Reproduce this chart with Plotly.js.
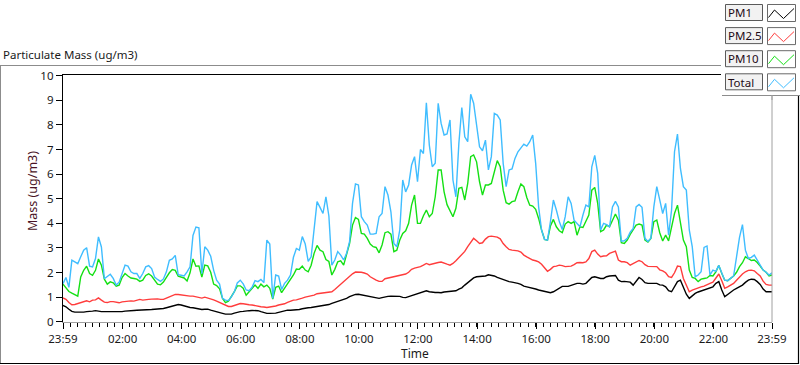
<!DOCTYPE html>
<html><head><meta charset="utf-8">
<script src="https://cdn.plot.ly/plotly-3.0.1.min.js"></script>
<style>html,body{margin:0;padding:0;background:#fff;overflow:hidden}#chart{width:800px;height:365px}</style>
</head><body><div id="chart"></div>
<script>
// ---- data (ug/m3), one sample every 6 minutes from 23:59 to 23:59 ----
const startTime = '2024-01-01 23:59';
const endTime = '2024-01-02 23:59';
const stepMinutes = 6;
const seriesNames = ['PM1', 'PM2.5', 'PM10', 'Total'];
const seriesColors = ['#000000', '#ff3c3c', '#14e014', '#3fbdff'];

const pm1 = [
0.66,0.61,0.51,0.42,0.39,0.38,0.38,0.39,0.41,0.41,
0.43,0.45,0.42,0.41,0.41,0.41,0.41,0.41,0.41,0.39,
0.41,0.43,0.45,0.45,0.46,0.47,0.47,0.47,0.50,0.50,
0.50,0.51,0.51,0.53,0.54,0.57,0.61,0.65,0.69,0.70,
0.68,0.64,0.59,0.58,0.57,0.54,0.51,0.50,0.51,0.51,
0.47,0.43,0.39,0.36,0.34,0.31,0.30,0.31,0.35,0.39,
0.41,0.42,
0.45,0.45,0.46,0.46,0.45,0.41,0.37,0.34,0.34,0.34,
0.35,0.38,0.42,0.46,0.47,0.47,0.47,0.49,0.50,0.53,
0.56,0.57,0.58,0.60,0.61,0.62,0.64,0.66,0.70,0.75,
0.79,0.81,0.85,0.91,0.95,1.02,1.08,1.11,1.12,1.10,
1.07,1.04,1.02,1.00,0.98,0.95,0.98,1.02,1.03,1.04,
1.04,1.04,1.03,0.99,0.98,1.02,1.06,1.10,1.15,1.19,
1.25,
1.26,1.22,1.19,1.19,1.19,1.18,1.21,1.22,1.22,1.22,
1.26,1.33,1.38,1.49,1.59,1.69,1.78,1.83,1.83,1.86,
1.86,1.91,1.90,1.86,1.80,1.76,1.69,1.67,1.63,1.61,
1.60,1.56,1.52,1.45,1.42,1.40,1.36,1.33,1.29,1.26,
1.22,1.18,1.18,1.22,1.29,1.34,1.44,1.44,1.44,1.48,
1.53,1.56,1.56,1.53,1.56,1.67,1.80,1.83,1.78,1.76,
1.76,
1.83,1.86,1.88,1.88,1.69,1.63,1.64,1.63,1.61,1.49,
1.67,1.80,1.72,1.59,1.56,1.56,1.53,1.56,1.50,1.49,
1.42,1.26,1.22,1.42,1.63,1.69,1.36,1.12,0.95,1.07,
1.15,1.21,1.25,1.29,1.33,1.36,1.42,1.56,1.63,1.29,
1.02,1.11,1.22,1.29,1.36,1.42,1.49,1.60,1.69,1.73,
1.72,1.63,1.52,1.33,1.22,1.22,1.22
];

const pm25 = [
0.97,0.91,0.78,0.69,0.70,0.74,0.78,0.82,0.85,0.81,
0.88,0.89,0.97,0.88,0.80,0.78,0.82,0.82,0.78,0.77,
0.81,0.82,0.86,0.85,0.84,0.86,0.91,0.88,0.88,0.91,
0.92,0.93,0.93,0.91,0.91,0.96,1.01,1.08,1.11,1.11,
1.09,1.08,1.07,1.04,1.04,1.01,0.99,0.96,1.00,0.97,
0.93,0.89,0.84,0.78,0.72,0.66,0.62,0.62,0.66,0.72,
0.74,0.73,
0.70,0.69,0.68,0.65,0.64,0.61,0.60,0.58,0.60,0.61,
0.64,0.68,0.70,0.73,0.79,0.85,0.88,0.89,0.91,0.96,
1.00,1.03,1.04,1.08,1.14,1.15,1.17,1.18,1.19,1.22,
1.31,1.42,1.50,1.61,1.71,1.83,1.95,2.02,2.03,2.01,
1.98,1.94,1.83,1.75,1.69,1.64,1.64,1.75,1.78,1.80,
1.84,1.87,1.90,1.91,1.94,2.01,2.13,2.18,2.20,2.24,
2.30,
2.37,2.32,2.36,2.40,2.41,2.43,2.37,2.34,2.30,2.37,
2.48,2.62,2.74,2.86,3.05,3.24,3.39,3.29,3.18,3.21,
3.36,3.46,3.48,3.46,3.44,3.37,3.18,3.05,2.94,2.91,
2.91,2.88,2.83,2.71,2.64,2.57,2.51,2.48,2.43,2.34,
2.17,2.05,2.13,2.24,2.26,2.30,2.28,2.24,2.25,2.26,
2.32,2.40,2.41,2.40,2.43,2.57,2.85,2.91,2.75,2.64,
2.67,
2.68,2.78,2.83,2.87,2.51,2.44,2.44,2.40,2.30,2.37,
2.43,2.49,2.44,2.32,2.25,2.24,2.26,2.24,2.11,2.07,
1.99,1.83,1.80,1.99,2.26,2.24,1.76,1.45,1.22,1.29,
1.34,1.40,1.42,1.45,1.49,1.56,1.61,1.80,1.94,1.67,
1.36,1.42,1.50,1.56,1.69,1.82,1.94,2.03,2.09,2.10,
2.07,1.96,1.86,1.65,1.52,1.49,1.49
];

const pm10 = [
1.53,1.39,1.23,1.16,1.09,1.04,1.82,2.09,2.26,1.96,
1.89,2.09,2.55,2.30,1.73,1.53,1.62,1.58,1.45,1.49,
1.80,1.96,1.86,1.78,1.76,1.73,1.64,1.69,1.88,1.95,
1.86,1.69,1.53,1.50,1.61,1.80,1.99,2.12,2.09,1.85,
1.82,1.78,1.66,1.99,2.55,2.26,2.27,1.82,2.30,2.27,
2.01,1.53,1.47,1.34,0.95,0.78,0.84,1.01,1.22,1.46,
1.46,1.36,
1.08,1.22,1.34,1.49,1.36,1.53,1.42,1.49,1.36,0.92,
1.40,1.45,1.18,1.36,1.49,1.67,1.90,2.14,2.13,2.26,
2.10,2.03,2.30,2.78,3.10,2.91,2.85,2.53,2.45,1.90,
2.13,2.44,2.48,2.30,2.71,3.18,3.93,4.24,4.16,3.59,
3.56,3.39,3.16,3.05,3.02,2.80,3.12,3.62,3.66,3.56,
2.85,2.91,3.32,3.59,3.70,4.00,4.74,5.15,4.00,4.00,
4.31,
4.54,4.27,4.40,5.08,6.17,6.17,5.28,4.76,4.54,4.27,
4.61,5.42,5.46,4.95,5.62,6.71,6.78,6.50,5.69,5.15,
5.56,5.56,5.62,6.10,6.55,6.30,5.35,4.84,4.78,4.88,
4.91,5.28,5.60,5.49,5.05,4.74,4.70,4.57,4.20,3.73,
3.35,3.32,3.89,4.16,3.86,3.70,3.62,3.97,4.07,4.00,
4.07,3.52,3.86,3.83,4.07,4.34,5.35,5.46,4.81,3.66,
3.73,
3.93,3.86,4.13,4.38,4.13,3.21,3.18,3.32,3.55,3.73,
3.93,3.97,3.93,3.32,3.24,3.39,4.07,4.13,3.62,3.28,
3.52,3.29,3.89,4.40,4.74,4.07,3.32,3.05,2.10,1.80,
1.76,1.63,1.73,1.76,1.78,1.88,1.86,2.03,2.29,1.96,
1.69,1.67,1.76,1.86,2.01,2.24,2.40,2.64,2.57,2.49,
2.51,2.41,2.26,2.10,2.01,1.86,1.90
];

const total = [
1.55,1.80,1.40,2.50,2.43,2.36,2.64,2.91,3.01,2.26,
2.23,2.57,3.45,3.04,1.75,1.86,1.93,1.76,1.49,1.61,
1.96,2.30,2.26,2.03,1.96,1.96,1.76,1.96,2.23,2.28,
2.16,1.82,1.72,1.64,1.74,2.03,2.50,2.55,2.70,1.91,
1.89,1.86,2.03,2.23,3.51,3.85,3.82,1.95,3.05,2.91,
2.66,2.09,1.69,1.53,0.95,0.88,0.86,1.01,1.22,1.58,
1.69,1.54,
1.29,1.26,1.40,1.67,1.63,1.72,1.59,3.32,3.16,0.95,
1.90,1.86,1.31,1.56,1.69,1.90,2.62,2.98,2.91,3.46,
3.16,2.45,2.64,3.86,4.88,4.65,4.40,5.08,4.30,2.30,
2.51,2.85,2.71,2.51,2.78,3.25,4.81,5.60,5.56,4.27,
4.07,3.93,3.56,3.56,3.59,4.27,4.40,5.49,5.15,4.47,
3.18,3.05,3.73,5.76,5.28,5.56,6.37,6.71,5.69,7.00,
6.84,
8.90,7.18,6.30,6.44,8.88,8.06,7.59,7.63,8.20,5.76,
5.08,7.25,8.71,7.52,7.32,9.25,8.88,8.04,7.11,6.95,
7.38,6.17,6.71,8.47,8.40,8.20,6.44,5.49,6.17,6.21,
6.64,6.91,7.05,7.22,7.14,7.32,7.59,6.44,4.67,3.73,
3.35,3.32,4.07,4.95,4.54,4.07,3.75,4.27,5.08,4.81,
4.13,3.97,3.86,4.34,4.74,4.67,6.30,6.76,6.03,3.73,
4.00,
3.95,3.86,4.67,4.89,4.67,3.27,3.29,3.39,3.64,3.79,
4.67,4.77,4.65,3.39,3.26,3.40,4.67,5.49,4.95,4.40,
4.81,3.52,4.54,6.91,7.63,6.23,5.49,5.35,3.73,3.05,
1.83,1.90,2.03,3.02,3.08,1.90,2.10,2.05,2.29,1.96,
1.69,1.67,1.78,1.86,2.64,3.43,3.95,2.91,2.57,2.62,
2.71,2.51,2.30,2.10,2.01,1.90,1.99
];

const tickLabels = ['23:59','02:00','04:00','06:00','08:00','10:00','12:00','14:00','16:00','18:00','20:00','22:00','23:59'];
const tickTimes = ['2024-01-01 23:59','2024-01-02 02:00','2024-01-02 04:00','2024-01-02 06:00','2024-01-02 08:00',
  '2024-01-02 10:00','2024-01-02 12:00','2024-01-02 14:00','2024-01-02 16:00','2024-01-02 18:00',
  '2024-01-02 20:00','2024-01-02 22:00','2024-01-02 23:59'];

// ---- sample clock ----
function pad(n){return (n<10?'0':'')+n;}
function sampleTimes(n){
  const t0 = Date.UTC(2024,0,1,23,59);
  const out = [];
  for(let i=0;i<n;i++){
    const d = new Date(t0 + i*stepMinutes*60000);
    out.push(d.getUTCFullYear()+'-'+pad(d.getUTCMonth()+1)+'-'+pad(d.getUTCDate())+' '+pad(d.getUTCHours())+':'+pad(d.getUTCMinutes()));
  }
  return out;
}
const times = sampleTimes(pm1.length);

// ---- geometry helpers (page pixels -> paper) ----
const W=800, H=365, L=63, R=772, T=74, B=322;
const fx = px => (px-L)/(R-L);
const fy = py => (B-py)/(B-T);
const FONT = 'Noto Sans, Open Sans, sans-serif';

const allSeries = [pm1, pm25, pm10, total];
const traces = allSeries.map((vals,k)=>({
  type:'scatter', mode:'lines', x:times, y:vals, name:seriesNames[k],
  line:{color:seriesColors[k], width:1.4}, hoverinfo:'skip', showlegend:false
}));

const shapes = [];
const line = (x0,y0,x1,y1,color,w)=>shapes.push({type:'line',xref:'paper',yref:'paper',
  x0:fx(x0),y0:fy(y0),x1:fx(x1),y1:fy(y1),line:{color:color,width:w||1},layer:'above'});
// plot frame: top (black), right (grey)
line(63,74.5,722,74.5,'#000000',1.2);
line(772,74,772,322,'#a0a0a0',1);
// outer panel frame
line(0,65.5,722,65.5,'#8c8c8c',1);
line(0.5,65,0.5,363.5,'#8c8c8c',1);
line(0,363.5,799,363.5,'#000000',1.2);
line(798.5,95,798.5,364,'#000000',1.2);

// legend block
shapes.push({type:'rect',xref:'paper',yref:'paper',x0:fx(721),x1:fx(801),y0:fy(0),y1:fy(95),
  fillcolor:'#ffffff',line:{width:0},layer:'above'});
line(722,95.5,800,95.5,'#8c8c8c',1);
line(772,95,772,100,'#a0a0a0',1);
const annotations = [];
seriesNames.forEach((nm,k)=>{
  const r = 4.5 + 23.1*k;
  shapes.push({type:'rect',xref:'paper',yref:'paper',x0:fx(725.5),x1:fx(762.5),y0:fy(r),y1:fy(r+16),
    fillcolor:'#f2f2f2',line:{color:'#5a5a5a',width:1},layer:'above'});
  shapes.push({type:'rect',xref:'paper',yref:'paper',x0:fx(767.5),x1:fx(795.5),y0:fy(r),y1:fy(r+17),
    fillcolor:'#ffffff',line:{color:'#6a6a6a',width:1},layer:'above'});
  const pts = [[768.5,r+13],[774.5,r+5.5],[783.5,r+14],[794,r+4]];
  shapes.push({type:'path',xref:'paper',yref:'paper',layer:'above',
    path:'M'+pts.map(p=>fx(p[0])+','+fy(p[1])).join(' L'),
    line:{color:seriesColors[k],width:1}});
  annotations.push({xref:'paper',yref:'paper',x:fx(726),y:fy(r+8.3),xanchor:'left',yanchor:'middle',
    text:nm,showarrow:false,font:{family:FONT,size:11.5,color:'#1e0a16'}});
});

annotations.push({xref:'paper',yref:'paper',x:fx(1),y:fy(54.5),xanchor:'left',yanchor:'middle',
  text:'Particulate Mass (ug/m3)',showarrow:false,font:{family:FONT,size:11.5,color:'#1a1a1a'}});
annotations.push({xref:'paper',yref:'paper',x:fx(32),y:fy(191),xanchor:'center',yanchor:'middle',textangle:-90,
  text:'Mass (ug/m3)',showarrow:false,font:{family:FONT,size:12.5,color:'#4a1426'}});
annotations.push({xref:'paper',yref:'paper',x:fx(415),y:fy(353),xanchor:'center',yanchor:'middle',
  text:'Time',showarrow:false,font:{family:FONT,size:12,color:'#1a1a1a'}});

const layout = {
  width:W, height:H, margin:{l:L, r:W-R, t:T, b:H-B, pad:0},
  paper_bgcolor:'#ffffff', plot_bgcolor:'#ffffff', showlegend:false,
  xaxis:{type:'date', range:[startTime,endTime], tickmode:'array', tickvals:tickTimes, ticktext:tickLabels,
    ticks:'outside', ticklen:6, tickwidth:1, tickcolor:'#000', showline:true, linecolor:'#a0a0a0', linewidth:1,
    showgrid:false, zeroline:false, fixedrange:true,
    tickfont:{family:FONT,size:11.5,color:'#1a1a1a'},
    minor:{ticks:'outside', ticklen:4, tickwidth:1, tickcolor:'#000', tick0:startTime, dtick:15*60*1000, showgrid:false}},
  yaxis:{range:[-0.01,10.07], tickmode:'linear', tick0:0, dtick:1, ticks:'outside', ticklen:6, tickwidth:1,
    tickcolor:'#000', showline:true, linecolor:'#000', linewidth:1.2, showgrid:false, zeroline:false, fixedrange:true,
    tickfont:{family:FONT,size:11.5,color:'#1a1a1a'}},
  shapes:shapes, annotations:annotations
};
Plotly.newPlot('chart', traces, layout, {staticPlot:true, displayModeBar:false});
</script></body></html>
